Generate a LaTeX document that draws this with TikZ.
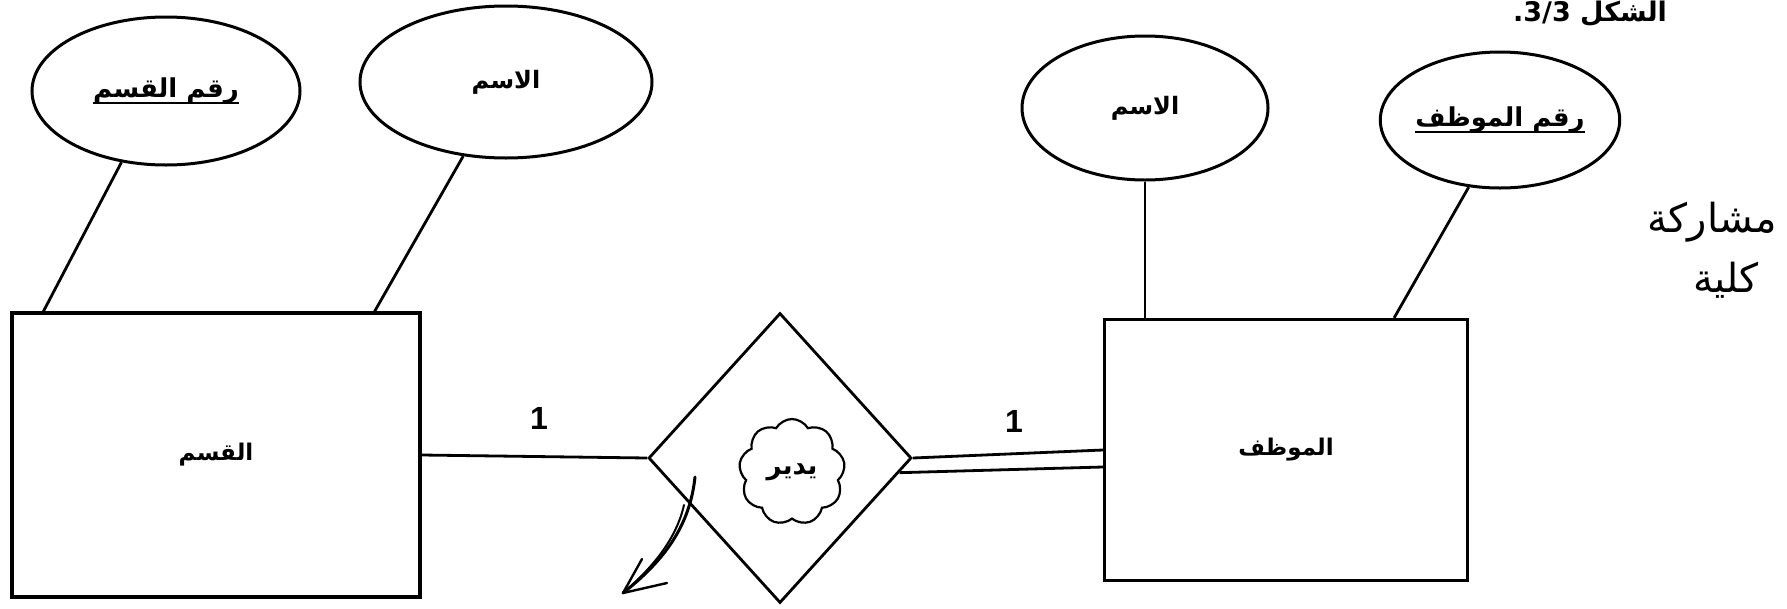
\documentclass[tikz,border=0pt]{standalone}
\usepackage{fontspec}
\usetikzlibrary{shapes.geometric,shapes.symbols,calc}
\TeXXeTstate=1
\newfontfamily\arabicfont[Script=Arabic]{DejaVu Sans}
\newfontfamily\numfont{Liberation Sans}
% right-to-left run of Arabic text
\newcommand{\rtl}[1]{\beginR#1\endR}
% key attribute: Arabic text with a heavy underline
\newcommand{\keylabel}[1]{\setbox0=\hbox{\rtl{#1}}\leavevmode\rlap{\raisebox{-7pt}{\rule{\wd0}{2.8pt}}}\box0}

\begin{document}
\begin{tikzpicture}[x=1pt,y=-1pt,
  entity/.style={draw, rectangle, inner sep=0pt, line width=3.2pt},
  attr/.style={draw, ellipse, inner sep=0pt, line width=3pt},
  rel/.style={draw, diamond, inner sep=0pt, line width=2.8pt},
  lbl/.style={font=\arabicfont\bfseries\fontsize{23}{27}\selectfont},
  attrlbl/.style={font=\arabicfont\bfseries\fontsize{24}{28}\selectfont},
  keylbl/.style={font=\arabicfont\bfseries\fontsize{26}{30}\selectfont},
  card/.style={font=\numfont\bfseries\fontsize{32}{36}\selectfont, inner sep=0pt},
  hand/.style={font=\arabicfont\fontsize{40}{44}\selectfont, inner sep=0pt},
  link/.style={line width=2.8pt}]
\useasboundingbox (0,0) rectangle (1787,608);

% entities
\node[entity, lbl, minimum width=408pt, minimum height=284pt] (R1) at (216,455) {\rtl{القسم}};
\node[entity, lbl, minimum width=363pt, minimum height=261pt] (R2) at (1286,450) {\rtl{الموظف}};

% relationship
\node[rel, minimum width=263pt, minimum height=290pt] (D) at (780,458) {};
\node[draw, cloud, cloud puffs=9, cloud puff arc=120, aspect=1, line width=2.2pt,
      minimum width=106pt, minimum height=106pt, inner sep=0pt, keylbl] (C) at (792,472) {\rtl{يدير}};

% attributes
\node[attr, keylbl, minimum width=268pt, minimum height=148pt] (E1) at (166,91) {\keylabel{رقم القسم}};
\node[attr, attrlbl, minimum width=292pt, minimum height=152pt] (E2) at (506,82) {\rtl{الاسم}};
\node[attr, attrlbl, minimum width=246pt, minimum height=144pt] (E3) at (1145,108) {\rtl{الاسم}};
\node[attr, keylbl, minimum width=234pt, minimum height=136pt] (E4) at (1500,120) {\keylabel{رقم الموظف}};

% attribute links
\draw[link] (E1.238) -- ([xshift=33pt]R1.north west);
\draw[link] (E2.240) -- ([xshift=-47pt]R1.north east);
\draw[link] (E3.south) -- (E3.south |- R2.north);
\draw[link] (E4.245) -- ([xshift=-75pt]R2.north east);

% relationship links (double line = total participation)
\draw[link] (R1.east) -- (D.west);
\draw[link] (D.east) -- (R2.west);
\draw[link] (D.-7) -- ([yshift=-17pt]R2.west);

% cardinalities
\node[card] (c1) at (539,418) {1};
\node[card] (c2) at (1014,421) {1};

% hand-drawn pointer
\coordinate (s0) at (695,477);
\coordinate (s1) at (623,593);
\draw[line width=3pt, line cap=round] (s0) .. controls (690,525) and (665,560) .. (s1);
\draw[line width=2pt, line cap=round] (684,505) .. controls (676,540) and (652,568) .. (s1);
\draw[line width=2.4pt, line cap=round] (s1) -- (642,559);
\draw[line width=2.4pt, line cap=round] (s1) -- (667,583);

% handwritten note
\node[hand] (h1) at (1712,222) {\rtl{مشاركة}};
\node[hand] (h2) at (1726,280) {\rtl{كلية}};

% figure caption
\node[font=\arabicfont\bfseries\fontsize{27}{30}\selectfont, anchor=north, inner sep=0pt] (cap) at (1590,1) {\rtl{الشكل 3/3.}};
\end{tikzpicture}
\end{document}
